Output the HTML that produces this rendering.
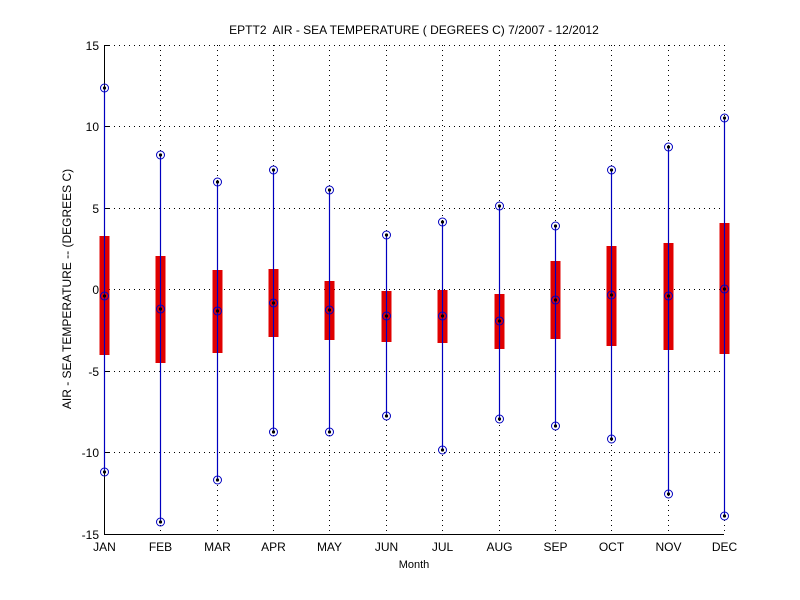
<!DOCTYPE html>
<html><head><style>body{margin:0;background:#fff}svg{display:block}text{font-family:"Liberation Sans",sans-serif;fill:#000}</style></head>
<body>
<svg width="800" height="600" xmlns="http://www.w3.org/2000/svg">
<rect width="800" height="600" fill="#fff"/>
<g stroke="#000" stroke-width="1" stroke-dasharray="1,4" fill="none" id="grid">
<line x1="104" y1="45.5" x2="724" y2="45.5"/>
<line x1="104" y1="126.5" x2="724" y2="126.5"/>
<line x1="104" y1="208.5" x2="724" y2="208.5"/>
<line x1="104" y1="289.5" x2="724" y2="289.5"/>
<line x1="104" y1="371.5" x2="724" y2="371.5"/>
<line x1="104" y1="452.5" x2="724" y2="452.5"/>
</g>
<g stroke="#000" stroke-width="1">
<line x1="104.5" y1="45" x2="104.5" y2="534"/>
<line x1="104" y1="534.5" x2="724" y2="534.5"/>
<line x1="104" y1="45.5" x2="110" y2="45.5"/><line x1="104" y1="126.5" x2="110" y2="126.5"/>
<line x1="104" y1="208.5" x2="110" y2="208.5"/><line x1="104" y1="289.5" x2="110" y2="289.5"/>
<line x1="104" y1="371.5" x2="110" y2="371.5"/><line x1="104" y1="452.5" x2="110" y2="452.5"/>
</g>
<g font-size="12" text-anchor="end">
<text x="99" y="50">15</text><text x="99" y="131">10</text><text x="99" y="213">5</text>
<text x="99" y="294">0</text><text x="99" y="376">-5</text><text x="99" y="457">-10</text><text x="99" y="539">-15</text>
</g>
<g font-size="12" text-anchor="middle" id="months"></g>
<text x="414" y="34" font-size="12" text-anchor="middle" xml:space="preserve">EPTT2  AIR - SEA TEMPERATURE ( DEGREES C) 7/2007 - 12/2012</text>
<text x="414" y="568" font-size="11" text-anchor="middle">Month</text>
<text transform="translate(71,289) rotate(-90)" font-size="12" text-anchor="middle">AIR - SEA TEMPERATURE -- (DEGREES C)</text>
<g id="data"></g>
</svg>
<script>
var d=[["JAN",88,236,355,296,472],["FEB",155,256,363,309,522],["MAR",182,270,353,311,480],["APR",170,269,337,303,432],["MAY",190,281,340,310,432],["JUN",235,291,342,316,416],["JUL",222,290,343,316,450],["AUG",206,294,349,321,419],["SEP",226,261,339,300,426],["OCT",170,246,346,295,439],["NOV",147,243,350,296,494],["DEC",118,223,354,289,516]];
var s="",m="",g="";
d.forEach(function(r,i){var x=Math.round(104+i*56.36)+0.5;
if(i>0)g+='<line x1="'+x+'" y1="45" x2="'+x+'" y2="534"/>';
s+='<line x1="'+x+'" y1="'+r[1]+'" x2="'+x+'" y2="'+r[5]+'" stroke="#0000c0" stroke-width="1.2"/>';
s+='<rect x="'+(x-5)+'" y="'+r[2]+'" width="10" height="'+(r[3]-r[2])+'" fill="#e00000"/>';
s+='<line x1="'+x+'" y1="'+r[2]+'" x2="'+x+'" y2="'+r[3]+'" stroke="#0000c0" stroke-width="1.2"/>';
[r[1],r[4],r[5]].forEach(function(y){s+='<circle cx="'+x+'" cy="'+y+'" r="4" fill="none" stroke="#0000c0" stroke-width="1"/><circle cx="'+x+'" cy="'+y+'" r="1.6" fill="#000"/>';});
m+='<text x="'+x+'" y="551">'+r[0]+'</text>';});
document.getElementById("grid").innerHTML+=g;
document.getElementById("data").innerHTML=s;document.getElementById("months").innerHTML=m;
</script>
</body></html>
